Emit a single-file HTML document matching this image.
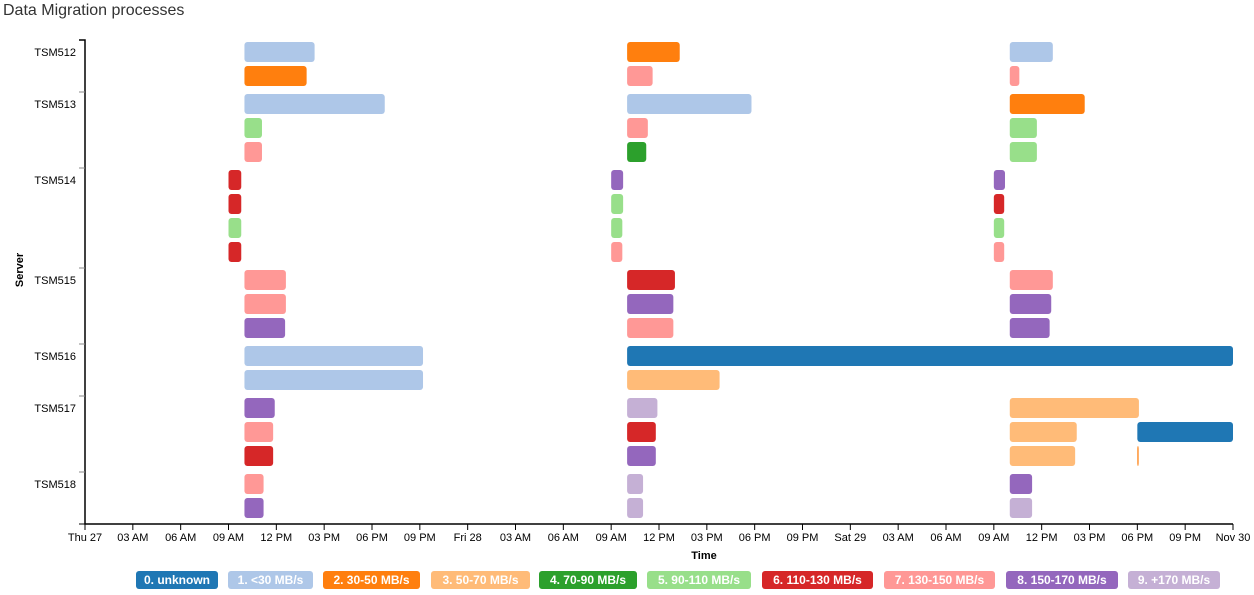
<!DOCTYPE html>
<html><head><meta charset="utf-8"><style>
body{margin:0;background:#fff;font-family:"Liberation Sans",sans-serif;}
#wrap{position:relative;width:1254px;height:595px;overflow:hidden}
.title{position:absolute;left:3px;top:2px;font-size:16px;color:#333}
.leg{position:absolute;top:571px;height:18px;border-radius:3px;color:#fff;font-weight:bold;font-size:12px;text-align:center;line-height:18px}
</style></head><body>
<div id="wrap">
<div class="title">Data Migration processes</div>
<svg id="svg" width="1254" height="595" style="position:absolute;left:0;top:0"></svg>
<div id="legend"></div>
</div>
<script>
const servers=["TSM512","TSM513","TSM514","TSM515","TSM516","TSM517","TSM518"];
const serverSpans=[2,3,4,3,2,3,2];
const xTicks=["Thu 27","03 AM","06 AM","09 AM","12 PM","03 PM","06 PM","09 PM","Fri 28","03 AM","06 AM","09 AM","12 PM","03 PM","06 PM","09 PM","Sat 29","03 AM","06 AM","09 AM","12 PM","03 PM","06 PM","09 PM","Nov 30"];
const catNames=["0. unknown","1. <30 MB/s","2. 30-50 MB/s","3. 50-70 MB/s","4. 70-90 MB/s","5. 90-110 MB/s","6. 110-130 MB/s","7. 130-150 MB/s","8. 150-170 MB/s","9. +170 MB/s"];
const catColors=["#1f77b4","#aec7e8","#ff7f0e","#ffbb78","#2ca02c","#98df8a","#d62728","#ff9896","#9467bd","#c5b0d5"];
// [row, startHour, endHour, category]
const tasks=[
[0,10,14.4,1],[1,10,13.9,2],[2,10,18.8,1],[3,10,11.1,5],[4,10,11.1,7],
[5,9,9.8,6],[6,9,9.8,6],[7,9,9.8,5],[8,9,9.8,6],
[9,10,12.6,7],[10,10,12.6,7],[11,10,12.55,8],[12,10,21.2,1],[13,10,21.2,1],
[14,10,11.9,8],[15,10,11.8,7],[16,10,11.8,6],[17,10,11.2,7],[18,10,11.2,8],
[0,34,37.3,2],[1,34,35.6,7],[2,34,41.8,1],[3,34,35.3,7],[4,34,35.2,4],
[5,33,33.75,8],[6,33,33.75,5],[7,33,33.7,5],[8,33,33.7,7],
[9,34,37,6],[10,34,36.9,8],[11,34,36.9,7],[12,34,72,0],[13,34,39.8,3],
[14,34,35.9,9],[15,34,35.8,6],[16,34,35.8,8],[17,34,35,9],[18,34,35,9],
[0,58,60.7,1],[1,58,58.6,7],[2,58,62.7,2],[3,58,59.7,5],[4,58,59.7,5],
[5,57,57.7,8],[6,57,57.65,6],[7,57,57.65,5],[8,57,57.65,7],
[9,58,60.7,7],[10,58,60.6,8],[11,58,60.5,8],
[14,58,66.1,3],[15,58,62.2,3],[15,66,72,0],[16,58,62.1,3],[16,66,66.08,2],
[17,58,59.4,8],[18,58,59.4,9]
];
const NS="http://www.w3.org/2000/svg";
const svg=document.getElementById('svg');
const X0=85,X1=1233,H=72,Y0=40,PITCH=24,BH=20,GAP=4;
const x=h=>X0+(X1-X0)*h/H;
const groupStart=[];let acc=0;serverSpans.forEach(s=>{groupStart.push(acc);acc+=s;});
const groupOf=r=>{let g=0;groupStart.forEach((s,i)=>{if(r>=s)g=i;});return g;};
const yRow=r=>Y0+2+r*PITCH+groupOf(r)*GAP;
function mk(t,a){const e=document.createElementNS(NS,t);for(const k in a)e.setAttribute(k,a[k]);svg.appendChild(e);return e;}
tasks.forEach(t=>{
 const r=mk('rect',{x:x(t[1]),y:yRow(t[0]),width:Math.max(1,x(t[2])-x(t[1])),height:BH,rx:3,fill:catColors[t[3]]});
 
 
});
const ax=mk('path',{d:`M${X0-6},${Y0}H${X0}V524H${X1}`,stroke:'#000',fill:'none','stroke-width':1.5});


groupStart.forEach((s,i)=>{if(i>0){const yy=yRow(s)-2;mk('line',{x1:X0-6,x2:X0,y1:yy,y2:yy,stroke:'#888'});}});
mk('line',{x1:X0-6,x2:X0,y1:524,y2:524,stroke:'#000'});
servers.forEach((s,i)=>{
 const t=mk('text',{x:76,y:yRow(groupStart[i])+14,'text-anchor':'end','font-size':11,fill:'#000'});
 t.textContent=s;
 
 
});
xTicks.forEach((s,i)=>{
 const xx=x(i*3);
 mk('line',{x1:xx,x2:xx,y1:524,y2:530,stroke:'#000'});
 const t=mk('text',{x:xx,y:541,'text-anchor':'middle','font-size':11,fill:'#000'});
 t.textContent=s;
 
 
});
const xt=mk('text',{x:704,y:559,'text-anchor':'middle','font-size':11,'font-weight':'bold'});
xt.textContent='Time';


const yt=mk('text',{x:0,y:0,'text-anchor':'middle','font-size':11,'font-weight':'bold',transform:'translate(23,270) rotate(-90)'});
yt.textContent='Server';


const legX=[136,228,323,431,539,647,762,884,1006,1128];
const legW=[82,85,97,99,98,104,111,111,112,92];
const lg=document.getElementById('legend');
catNames.forEach((n,i)=>{
 const d=document.createElement('div');
 d.className='leg';
 d.style.left=legX[i]+'px';d.style.width=legW[i]+'px';d.style.background=catColors[i];
 d.textContent=n;
 
 
 lg.appendChild(d);
});
</script>
</body></html>
